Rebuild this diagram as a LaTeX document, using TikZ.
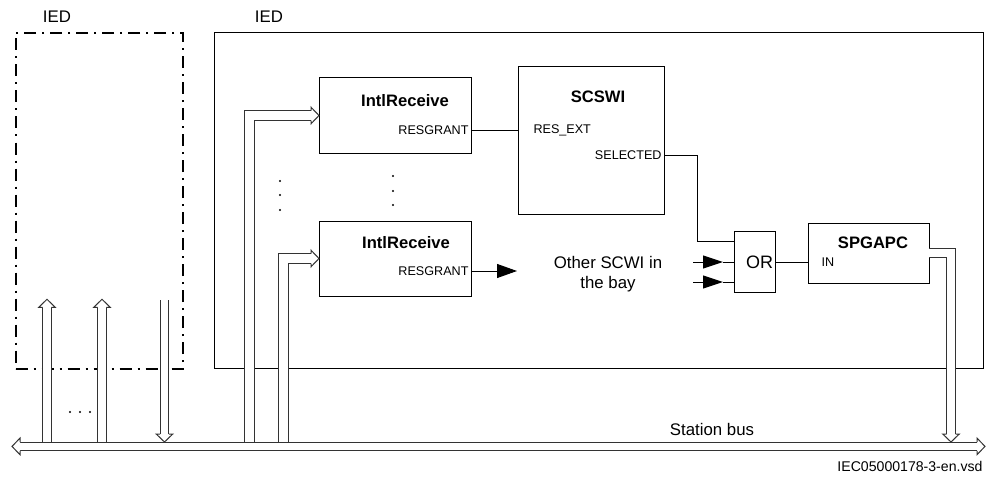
\documentclass[tikz,border=0pt]{standalone}
\usepackage{fontspec}
\setmainfont{Liberation Sans}
\usetikzlibrary{arrows.meta,calc}

\tikzset{
  blk/.style={draw,line width=1pt,anchor=north west,inner sep=0,outer sep=0},
  ttl/.style={font=\bfseries\fontsize{16.6}{20}\selectfont,inner sep=0},
  lbl/.style={font=\fontsize{16.8}{20}\selectfont,inner sep=0},
  pin/.style={font=\fontsize{12.6}{15}\selectfont,inner sep=0},
  dline/.style={draw=black!80,line width=1pt,double=white,double distance=#1pt},
  pics/hhead/.style={code={
    \fill[white] (0,0)--(-8,8.3)--(-8,-8.3)--cycle;
    \draw[black!80,line width=1pt] (-8,{(#1+1)/2})--(-8,8.3)--(0,0)--(-8,-8.3)--(-8,{-(#1+1)/2});
  }},
}

\begin{document}
\begin{tikzpicture}[x=1pt,y=-1pt,line width=1pt]
\useasboundingbox (0,0) rectangle (986,487);
% the two IEDs
\node[blk,minimum width=167.5pt,minimum height=335.5pt,line width=2pt,
  dash pattern=on 12pt off 6pt on 2pt off 6pt] (iedA) at (15.5,33) {};
\node[lbl] (iedAt) at (57,17) {IED};
\node[blk,minimum width=769pt,minimum height=335.5pt] (iedB) at (214,32.5) {};
\node[lbl] (iedBt) at (269,17) {IED};

% function blocks
\node[blk,minimum width=152pt,minimum height=75pt] (rcv1) at (319,78) {};
\node[ttl] (rcv1t) at (405,101) {IntlReceive};
\node[pin,anchor=east] (rg1) at (469,130) {RESGRANT};
\node[blk,minimum width=152pt,minimum height=75pt] (rcv2) at (319,221) {};
\node[ttl] (rcv2t) at (406,243) {IntlReceive};
\node[pin,anchor=east] (rg2) at (469,271) {RESGRANT};
\node[blk,minimum width=146pt,minimum height=147pt] (scs) at (518,67) {};
\node[ttl] (scst) at (598,97) {SCSWI};
\node[pin,anchor=west] (rx) at (533,130) {RES\_EXT};
\node[pin,anchor=east] (sl) at (662,155) {SELECTED};
\node[blk,minimum width=41pt,minimum height=61pt] (orb) at (734,231) {};
\node[font=\fontsize{18}{20}\selectfont,inner sep=0] (ort) at (759.5,262) {OR};
\node[blk,minimum width=121pt,minimum height=60pt] (spg) at (808,223) {};
\node[ttl] (spgt) at (873,243) {SPGAPC};
\node[pin,anchor=west] (inp) at (821,262) {IN};
\node[lbl,align=center] (oth) at (608,274) {Other SCWI in\\the bay};

% signal lines
\coordinate (othin) at (517,271);
\coordinate (or1) at (734,241);
\coordinate (or2) at (734,262);
\coordinate (or3) at (734,282);
\draw (rcv1.east |- rg1) -- (scs.west |- rg1);
\draw[-{Triangle[length=20pt,width=14pt]}] (rcv2.east |- rg2) -- (othin);
\draw (scs.east |- sl) -| (697,241) -- (or1);
\draw[-{Triangle[length=20pt,width=13pt]}] ($(or2)-(41,0)$) -- ($(or2)-(11,0)$);
\draw ($(or2)-(11,0)$) -- (or2);
\draw[-{Triangle[length=20pt,width=13pt]}] ($(or3)-(41,0)$) -- ($(or3)-(11,0)$);
\draw ($(or3)-(11,0)$) -- (or3);
\draw (orb.east |- ort) -- (spg.west |- ort);

% dots
\fill (280,181) circle[radius=1.1pt] (280,195) circle[radius=1.1pt] (280,210) circle[radius=1.1pt];
\fill (393,176) circle[radius=1.1pt] (393,191) circle[radius=1.1pt] (393,205) circle[radius=1.1pt];
\fill (70,412) circle[radius=1.1pt] (80,412) circle[radius=1.1pt] (90,412) circle[radius=1.1pt];

% station bus
\coordinate (busL) at (12,446.4);
\coordinate (busR) at (985,446.4);
\draw[dline=7.7] ($(busL)+(8,0)$) -- ($(busR)-(8,0)$);
\pic[rotate=180] at (busL) {hhead=7.7};
\pic at (busR) {hhead=7.7};
\node[lbl] (bus) at (712,429) {Station bus};

% links to the bus
\coordinate (up1) at (47,299.3);
\coordinate (up2) at (102,299.3);
\coordinate (dn1) at (164.5,442);
\coordinate (dn2) at (951,442);
\draw[dline=7.6] (47,442) -- ($(up1)+(0,8)$);
\pic[rotate=90] at (up1) {hhead=7.6};
\draw[dline=7.6] (102,442) -- ($(up2)+(0,8)$);
\pic[rotate=90] at (up2) {hhead=7.6};
\draw[dline=7.6] (164.5,300) -- ($(dn1)-(0,8)$);
\pic[rotate=-90] at (dn1) {hhead=7.6};
\draw[dline=9] (249,442) |- ($(rcv1.west)-(8,0)$);
\pic at (rcv1.west) {hhead=9};
\draw[dline=9] (283,442) |- ($(rcv2.west)-(8,0)$);
\pic at (rcv2.west) {hhead=9};
\draw[dline=8] (spg.east) -| ($(dn2)-(0,8)$);
\pic[rotate=-90] at (dn2) {hhead=8};

\node[font=\fontsize{14.1}{16}\selectfont,inner sep=0,anchor=east] (file) at (983,466) {IEC05000178-3-en.vsd};
\end{tikzpicture}
\end{document}
